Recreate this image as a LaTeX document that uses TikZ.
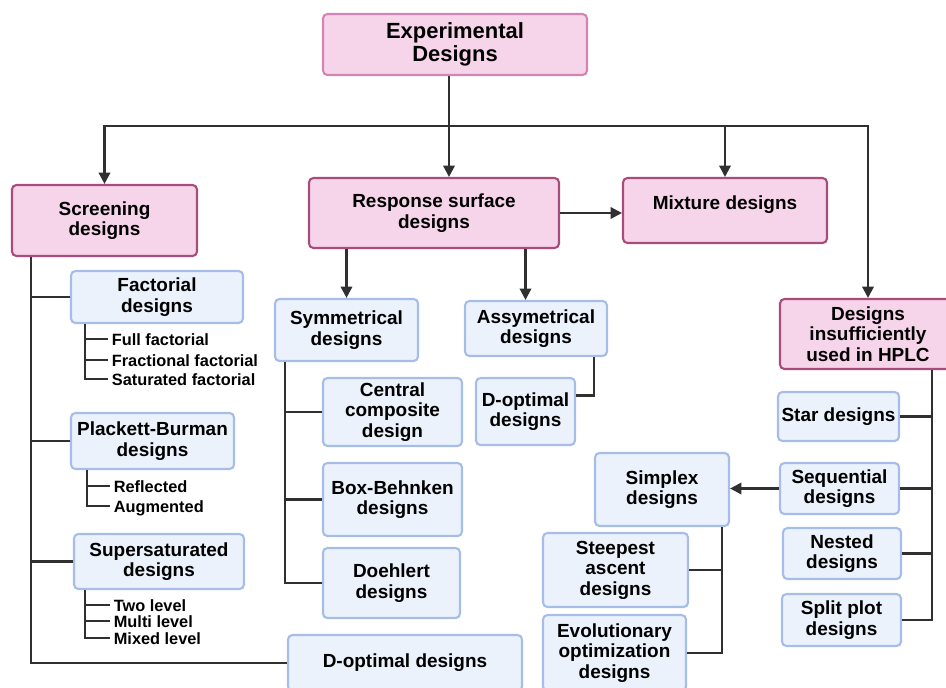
\documentclass[tikz,border=0pt]{standalone}
\usepackage{fontspec}
\setmainfont{Liberation Sans}
\usetikzlibrary{arrows.meta,calc}

\definecolor{pinkfill}{HTML}{F6D4EA}
\definecolor{pinkline}{HTML}{A84C7C}
\definecolor{pinklight}{HTML}{D484B3}
\definecolor{bluefill}{HTML}{EBF2FC}
\definecolor{blueline}{HTML}{A6BDE7}
\definecolor{wire}{HTML}{303030}

\tikzset{
  box/.style={rectangle, rounded corners=2.5pt, line width=1.2pt, align=center,
    inner sep=1pt, font=\bfseries\fontsize{10.8}{11.6}\selectfont},
  topbox/.style={box, fill=pinkfill, draw=pinkline},
  subbox/.style={box, fill=bluefill, draw=blueline},
  item/.style={anchor=west, inner sep=2pt, text height=7pt, text depth=0pt,
    font=\bfseries\fontsize{9.3}{10}\selectfont},
  line/.style={draw=wire, line width=1.35pt},
  arr/.style={line, -{Triangle[length=6.5pt,width=6.5pt]}}
}

\begin{document}
\begin{tikzpicture}[x=0.02cm, y=-0.02cm]
\useasboundingbox (0,0) rectangle (946,687);
\clip (0,0) rectangle (946,687);

% main level
\node[topbox, draw=pinklight, minimum width=5.28cm, minimum height=1.22cm,
  font=\bfseries\fontsize{12.5}{12.8}\selectfont] (exp) at (455,44.5) {Experimental\\Designs};
\node[topbox, minimum width=3.7cm, minimum height=1.42cm] (scr) at (104.5,220.5) {Screening\\designs};
\node[topbox, minimum width=5.0cm, minimum height=1.4cm] (rsd) at (434,213) {Response surface\\designs};
\node[topbox, minimum width=4.08cm, minimum height=1.3cm] (mix) at (725,210.5) {Mixture designs\\[-2.6pt]~};
\node[topbox, minimum width=3.52cm, minimum height=1.4cm] (ins) at (868,334) {Designs\\insufficiently\\used in HPLC};

% screening designs
\node[subbox, minimum width=3.44cm, minimum height=1.04cm] (fac) at (157,297) {Factorial\\designs};
\node[subbox, minimum width=3.26cm, minimum height=1.12cm] (pb) at (152.5,441) {Plackett-Burman\\designs};
\node[subbox, minimum width=3.4cm, minimum height=1.1cm] (sup) at (159,561.5) {Supersaturated\\designs};
\node[subbox, minimum width=4.68cm, minimum height=1.12cm] (dop1) at (405,663) {D-optimal designs};

\node[item] (ff1) at (108,339) {Full factorial};
\node[item] (ff2) at (108,360) {Fractional factorial};
\node[item] (ff3) at (108,379) {Saturated factorial};
\node[item] (pb1) at (110,486) {Reflected};
\node[item] (pb2) at (110,506) {Augmented};
\node[item] (sl1) at (110,605) {Two level};
\node[item] (sl2) at (110,621) {Multi level};
\node[item] (sl3) at (110,638) {Mixed level};

% response surface designs
\node[subbox, minimum width=2.86cm, minimum height=1.24cm] (sym) at (346.5,330) {Symmetrical\\designs};
\node[subbox, minimum width=2.78cm, minimum height=1.36cm] (ccd) at (392.5,412) {Central\\composite\\design};
\node[subbox, minimum width=2.78cm, minimum height=1.46cm] (bbd) at (392.5,499.5) {Box-Behnken\\designs};
\node[subbox, minimum width=2.74cm, minimum height=1.4cm] (doe) at (391.5,583) {Doehlert\\designs};
\node[subbox, minimum width=2.84cm, minimum height=1.1cm] (asy) at (536,328.5) {Assymetrical\\designs};
\node[subbox, minimum width=1.98cm, minimum height=1.34cm] (dop2) at (525.5,411.5) {D-optimal\\designs};

% designs insufficiently used
\node[subbox, minimum width=2.42cm, minimum height=0.98cm] (star) at (838.5,416.5) {Star designs};
\node[subbox, minimum width=2.38cm, minimum height=1.02cm] (seq) at (839.5,488.5) {Sequential\\designs};
\node[subbox, minimum width=2.36cm, minimum height=1.02cm] (nst) at (842,553.5) {Nested\\designs};
\node[subbox, minimum width=2.38cm, minimum height=1.04cm] (spl) at (841.5,620) {Split plot\\designs};
\node[subbox, minimum width=2.68cm, minimum height=1.46cm] (smp) at (662,489.5) {Simplex\\designs};
\node[subbox, minimum width=2.9cm, minimum height=1.48cm] (stp) at (615.5,570) {Steepest\\ascent\\designs};
\node[subbox, minimum width=2.86cm, minimum height=1.52cm] (evo) at (614.5,653) {Evolutionary\\optimization\\designs};

% top connectors
\coordinate (hub) at (449,126);
\draw[line] (exp.south -| hub) -- (hub);
\draw[arr] (hub) -- (hub |- rsd.north);
\draw[arr] (hub) -| (scr.north);
\draw[arr] (hub) -| (ins.north);
\draw[arr] (hub -| mix.north) -- (mix.north);
\draw[arr] (rsd.east) -- (rsd.east -| mix.west);
\draw[arr] (sym.north |- rsd.south) -- (sym.north);
\draw[arr] (dop2.north |- rsd.south) -- (dop2.north |- asy.north);

% screening tree
\coordinate (scrt) at ($(scr.south west)+(20,0)$);
\draw[line] (scrt) |- (dop1.west);
\foreach \n in {fac,pb,sup} \draw[line] (scrt |- \n.west) -- (\n.west);

\coordinate (facl) at ($(fac.south west)+(15,0)$);
\draw[line] (facl) |- (ff3.west);
\foreach \n in {ff1,ff2} \draw[line] (facl |- \n.west) -- (\n.west);
\coordinate (pbl) at ($(pb.south west)+(17,0)$);
\draw[line] (pbl) |- (pb2.west);
\draw[line] (pbl |- pb1.west) -- (pb1.west);
\coordinate (supl) at ($(sup.south west)+(12,0)$);
\draw[line] (supl) |- (sl3.west);
\foreach \n in {sl1,sl2} \draw[line] (supl |- \n.west) -- (\n.west);

% symmetrical / assymetrical
\coordinate (symt) at ($(sym.south west)+(11,0)$);
\draw[line] (symt) |- (doe.west);
\foreach \n in {ccd,bbd} \draw[line] (symt |- \n.west) -- (\n.west);
\draw[line] ($(asy.south east)+(-14,0)$) |- ($(dop2.east)+(0,-16)$);

% right side
\coordinate (inst) at ($(ins.south west)+(153,0)$);
\draw[line] (inst) |- (spl.east);
\foreach \n in {star,seq,nst} \draw[line] (\n.east) -- (\n.east -| inst);
\draw[arr] (seq.west) -- (seq.west -| smp.east);
\coordinate (smpt) at ($(smp.south east)+(-8,0)$);
\draw[line] (smpt) |- (evo.east);
\draw[line] (stp.east) -- (stp.east -| smpt);
\end{tikzpicture}
\end{document}
